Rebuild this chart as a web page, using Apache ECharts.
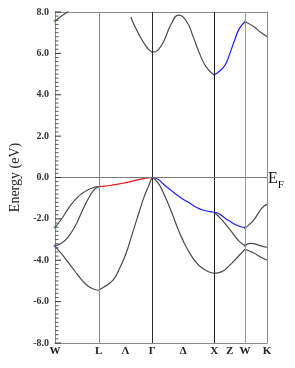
<!DOCTYPE html>
<html>
<head>
<meta charset="utf-8">
<script src="https://cdn.jsdelivr.net/npm/echarts@6/dist/echarts.min.js"></script>
<style>
html,body{margin:0;padding:0;background:#fff;}
#chart{width:295px;height:368px;}
</style>
</head>
<body>
<div id="chart"></div>
<script>
// k-path positions (units of 2π/a) and their labels
var kTicks = [0, 0.354, 0.707, 1.140, 1.573, 2.073, 2.573, 2.823, 3.073, 3.427];
var kNames = ['W', '', 'L', 'Λ', 'Γ', 'Δ', 'X', 'Z', 'W', 'K'];
var symLines = [0.707, 1.573, 2.573, 3.073];
// energy tick values (major every 2 eV, minor every 0.2 eV)
var yMajor = [-8, -6, -4, -2, 0, 2, 4, 6, 8];
var yMinorStep = 0.2;

// conduction bands
var cbW_up = [[0,7.56],[0.062,7.71],[0.140,7.88],[0.217,8.05],[0.279,8.2]];
var cbLG = [[1.225,7.76],[1.30,7.25],[1.40,6.68],[1.46,6.40],[1.52,6.17],[1.573,6.06]];
var cbGX = [[1.573,6.06],[1.664,6.16],[1.768,6.65],[1.871,7.37],[2.000,7.85],[2.130,7.53],[2.233,6.81],[2.336,6.00],[2.440,5.36],[2.573,4.95]];
var cbXW_blue = [[2.573,4.95],[2.647,5.11],[2.750,5.44],[2.827,6.00],[2.905,6.65],[2.982,7.21],[3.073,7.53]];
var cbWK = [[3.073,7.53],[3.215,7.29],[3.313,7.05],[3.427,6.81]];

// valence bands
var vbWL_1 = [[0,-2.41],[0.114,-1.97],[0.217,-1.49],[0.320,-1.09],[0.424,-0.80],[0.527,-0.60],[0.631,-0.48],[0.707,-0.44]];
var vbWL_2 = [[0,-3.30],[0.114,-3.15],[0.217,-2.86],[0.320,-2.38],[0.424,-1.73],[0.527,-1.09],[0.631,-0.60],[0.707,-0.44]];
var vbWL_3 = [[0,-3.33],[0.114,-3.72],[0.217,-4.12],[0.320,-4.52],[0.424,-4.92],[0.527,-5.23],[0.631,-5.40],[0.707,-5.45]];
var vbLG_red = [[0.707,-0.44],[0.80,-0.42],[0.941,-0.36],[1.07,-0.29],[1.199,-0.21],[1.30,-0.14],[1.406,-0.07],[1.50,-0.02],[1.573,0]];
var vbLG_low = [[0.707,-5.45],[0.786,-5.31],[0.941,-4.95],[1.044,-4.39],[1.148,-3.67],[1.251,-2.70],[1.354,-1.73],[1.432,-1.01],[1.509,-0.44],[1.551,-0.12],[1.573,0]];
var vbGX_blue = [[1.573,0],[1.664,-0.09],[1.768,-0.36],[1.871,-0.60],[1.974,-0.85],[2.078,-1.06],[2.181,-1.25],[2.285,-1.44],[2.388,-1.57],[2.491,-1.64],[2.573,-1.68]];
var vbGX_low = [[1.573,0],[1.664,-0.25],[1.768,-0.85],[1.871,-1.57],[1.974,-2.38],[2.078,-3.10],[2.181,-3.67],[2.285,-4.12],[2.388,-4.39],[2.491,-4.57],[2.573,-4.63]];
var vbXW_blue = [[2.573,-1.68],[2.657,-1.76],[2.750,-1.97],[2.85,-2.16],[2.931,-2.30],[3.00,-2.38],[3.073,-2.43]];
var vbXW_2 = [[2.573,-1.68],[2.698,-2.05],[2.853,-2.62],[2.982,-3.10],[3.073,-3.29]];
var vbXW_low = [[2.573,-4.63],[2.698,-4.55],[2.802,-4.31],[2.957,-3.83],[3.073,-3.47]];
var vbWK_1 = [[3.073,-2.43],[3.13,-2.30],[3.215,-2.05],[3.313,-1.60],[3.38,-1.38],[3.427,-1.30]];
var vbWK_2 = [[3.073,-3.29],[3.15,-3.18],[3.215,-3.20],[3.313,-3.29],[3.427,-3.37]];
var vbWK_3 = [[3.073,-3.47],[3.14,-3.55],[3.215,-3.65],[3.313,-3.83],[3.427,-3.99]];

var greenDots = [[0,7.56],[0,-2.41],[3.073,7.53],[3.073,-2.43]];
var blueDots = [[0,-3.30],[3.073,-3.29]];

var GRAY = '#4a4a4a', RED = '#ee1515', BLUE = '#1c1cff';
var bands = [
  [cbW_up, GRAY],[cbLG, GRAY],[cbGX, GRAY],[cbXW_blue, BLUE],[cbWK, GRAY],
  [vbWL_1, GRAY],[vbWL_2, GRAY],[vbWL_3, GRAY],[vbLG_red, RED],[vbLG_low, GRAY],
  [vbGX_blue, BLUE],[vbGX_low, GRAY],[vbXW_blue, BLUE],[vbXW_2, GRAY],[vbXW_low, GRAY],
  [vbWK_1, GRAY],[vbWK_2, GRAY],[vbWK_3, GRAY]
];

var SERIF = '"Liberation Serif","DejaVu Serif",serif';
var FRAME = '#8a8a8a';
var lineColors = ['#8a8a8a', '#2a2a2a', '#1a1a1a', '#9a9a9a'];
var refLines = {
  silent: true, symbol: ['none','none'], animation: false,
  label: {show: false},
  data: symLines.map(function(v, i){
    return {xAxis: v, lineStyle: {color: lineColors[i], width: 1, type: 'solid'}};
  }).concat([{
    yAxis: 0,
    lineStyle: {color: '#7a7a7a', width: 1.2, type: 'solid'},
    label: {
      show: true, position: 'end', distance: 1,
      formatter: '{e|E}{f|F}',
      rich: {
        e: {fontFamily: SERIF, fontSize: 16, color: '#111', verticalAlign: 'bottom', lineHeight: 18},
        f: {fontFamily: SERIF, fontSize: 11, color: '#111', verticalAlign: 'bottom', lineHeight: 12, padding: [0,0,-4,0]}
      }
    }
  }])
};
var series = bands.map(function(b, i){
  var s = {
    type: 'line', data: b[0], smooth: 0.5, showSymbol: false, silent: true,
    lineStyle: {color: b[1], width: 1.2}, itemStyle: {color: b[1]}, clip: true
  };
  if (i === 0) s.markLine = refLines;
  return s;
});
series.push({type:'scatter', data: greenDots, symbolSize: 3, itemStyle:{color:'#3ab83a'}, silent:true});
series.push({type:'scatter', data: blueDots, symbolSize: 3, itemStyle:{color:'#5555ff'}, silent:true});

// tick marks on the inside of the energy axis, placed through the axis scale
var tickVals = [];
for (var t = -8; t <= 8.0001; t += yMinorStep) tickVals.push([0, Math.round(t * 10) / 10]);
series.push({
  type: 'custom', silent: true, clip: false, z: 5,
  data: tickVals,
  renderItem: function(params, api){
    var v = api.value(1);
    var p = api.coord([0, v]);
    var isMajor = yMajor.indexOf(v) >= 0;
    var len = isMajor ? 6 : 3.5;
    return {
      type: 'line',
      shape: {x1: p[0], y1: p[1], x2: p[0] + len, y2: p[1]},
      style: {stroke: isMajor ? '#333' : '#555', lineWidth: 1}
    };
  }
});

var chart = echarts.init(document.getElementById('chart'), null, {renderer: 'canvas'});
chart.setOption({
  animation: false,
  grid: {left: 46, right: 28, top: 12, bottom: 25},
  xAxis: [{
    type: 'value', min: 0, max: 3.427, position: 'bottom',
    axisLine: {show: true, onZero: false, lineStyle: {color: FRAME, width: 1}},
    axisTick: {show: false},
    splitLine: {show: false},
    axisLabel: {
      show: true, customValues: kTicks, margin: 3,
      fontFamily: SERIF, fontWeight: 'bold', fontSize: 11, color: '#222',
      formatter: function(v){
        var i = kTicks.indexOf(v);
        return i >= 0 ? kNames[i] : '';
      }
    }
  }, {
    type: 'value', min: 0, max: 3.427, position: 'top',
    axisLine: {show: true, onZero: false, lineStyle: {color: FRAME, width: 1}},
    axisTick: {show: false}, axisLabel: {show: false}, splitLine: {show: false}
  }],
  yAxis: [{
    type: 'value', min: -8, max: 8, interval: 2, position: 'left',
    name: 'Energy (eV)', nameLocation: 'middle', nameGap: 33,
    nameTextStyle: {fontFamily: SERIF, fontSize: 14, color: '#222'},
    axisLine: {show: true, onZero: false, lineStyle: {color: FRAME, width: 1}},
    axisTick: {show: false},
    minorTick: {show: false},
    splitLine: {show: false},
    axisLabel: {
      margin: 6, fontFamily: SERIF, fontWeight: 'bold', fontSize: 10, color: '#333',
      formatter: function(v){ return v.toFixed(1); }
    }
  }, {
    type: 'value', min: -8, max: 8, interval: 2, position: 'right',
    axisLine: {show: true, onZero: false, lineStyle: {color: FRAME, width: 1}},
    axisTick: {show: false}, axisLabel: {show: false}, splitLine: {show: false}
  }],
  series: series
});
</script>
</body>
</html>
